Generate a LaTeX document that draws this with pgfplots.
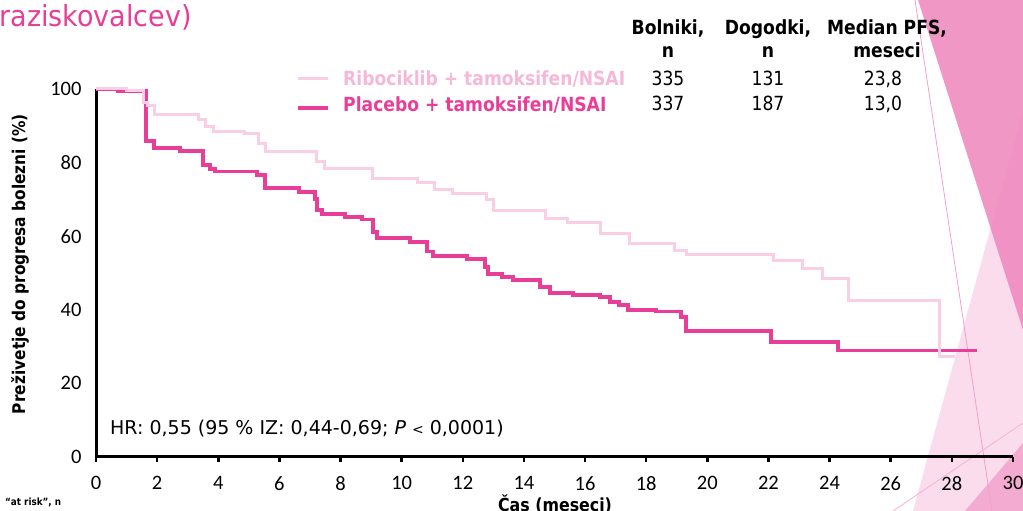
\documentclass[border=0pt]{standalone}
\usepackage{pgfplots}
\pgfplotsset{compat=1.18}
\usepackage{pgfplotstable}
\usepackage{fontspec}
\setmainfont{DejaVu Sans}[FakeStretch=0.88]
\newfontfamily\tah{DejaVu Sans}[FakeStretch=0.88]
\newfontfamily\ttl{DejaVu Sans}[FakeStretch=0.93]
\newfontfamily\dvs{DejaVu Sans}
\newfontfamily\carlito{Carlito}
\definecolor{lightpk}{RGB}{250,207,229}
\definecolor{lightpktxt}{RGB}{246,184,217}
\definecolor{darkpk}{RGB}{233,62,152}
\definecolor{midpk}{RGB}{240,140,192}
\definecolor{palepk}{RGB}{249,211,232}

\pgfplotstableread{
x y
0 100
1.0 99.6
1.55 96.2
1.7 95.6
1.9 93.2
3.34 91.6
3.57 89.7
3.83 88.4
4.87 87.8
5.30 85.3
5.53 82.9
7.23 80.2
7.49 78.5
9.03 75.8
10.53 74.5
11.09 72.6
11.65 71.7
12.79 70.1
12.99 67.1
14.72 64.9
15.44 63.6
16.52 60.6
17.44 57.9
18.91 56.2
19.33 54.9
22.18 53.3
23.10 51.1
23.78 48.6
24.63 42.4
27.58 27.2
28.10 27.2
}\ribo

\pgfplotstableread{
x y
0 100
0.7 99.5
1.64 85.9
1.9 84.0
2.75 83.2
3.50 79.3
3.73 78.3
3.89 77.6
5.27 76.6
5.53 73.1
6.64 72.0
7.16 70.1
7.23 67.1
7.39 66.0
8.15 65.2
8.70 64.6
9.06 61.1
9.19 59.5
10.27 58.4
10.83 55.9
11.02 54.6
12.13 53.8
12.73 51.6
12.82 49.7
13.28 48.9
13.64 48.1
14.52 46.2
14.85 44.6
15.60 44.0
16.49 43.5
16.81 42.1
17.11 41.3
17.40 39.9
18.32 39.6
19.14 38.0
19.30 34.2
22.08 31.3
24.27 29.0
28.82 29.0
}\plac

\begin{document}
\begin{tikzpicture}[x=1pt,y=1pt]
\useasboundingbox (0,0) rectangle (1023,511);
\clip (0,0) rectangle (1023,511);
% decorative shapes
\fill[palepk, opacity=0.8] (1023,401) -- (913,0) -- (1023,0) -- cycle;
\fill[midpk, opacity=0.9] (918,511) -- (1023,511) -- (1023,181) -- cycle;
\fill[midpk, opacity=0.6] (965,0) -- (1023,68) -- (1023,0) -- cycle;
\draw[darkpk!50, line width=0.8pt] (915,511) -- (992,0);
\draw[darkpk!40, line width=0.8pt] (893,0) -- (1023,88);
% title fragment
\node[anchor=base east, inner sep=0pt, text=darkpk, font=\ttl\fontsize{29}{32}\selectfont] at (192,484) {raziskovalcev)};
\begin{axis}[
  at={(96pt,54pt)}, anchor=south west,
  scale only axis, width=917pt, height=368pt,
  xmin=0, xmax=30, ymin=0, ymax=100,
  axis lines*=left,
  axis line style={line width=3pt, black},
  xtick={0,2,...,30}, ytick={0,20,...,100},
  tick align=outside,
  major tick length=5pt,
  x tick style={line width=2.5pt, black},
  y tick style={draw=none},
  /pgf/number format/assume math mode=true,
  ticklabel style={font=\carlito\fontsize{20.5}{24}\selectfont},
  xticklabel style={yshift=-11pt},
  yticklabel style={xshift=-6pt},
  clip=false,
]
\addplot[const plot, darkpk, line width=3.5pt] table[x=x,y=y] {\plac};
\addplot[const plot, lightpk, line width=3pt] table[x=x,y=y] {\ribo};
\end{axis}
% legend
\draw[lightpk, line width=3pt] (298,432) -- (328,432);
\draw[darkpk, line width=3.5pt] (298,403) -- (328,403);
\node[anchor=base west, inner sep=0pt, text=lightpktxt, font=\tah\bfseries\fontsize{19.5}{22}\selectfont] at (343,425) {Ribociklib + tamoksifen/NSAI};
\node[anchor=base west, inner sep=0pt, text=darkpk, font=\tah\bfseries\fontsize{19.5}{22}\selectfont] at (343,399) {Placebo + tamoksifen/NSAI};
% table
\begin{scope}[every node/.style={anchor=base, inner sep=0pt, font=\tah\fontsize{19.5}{22}\selectfont}]
\node[font=\tah\bfseries\fontsize{19.5}{22}\selectfont] at (668,476) {Bolniki,};
\node[font=\tah\bfseries\fontsize{19.5}{22}\selectfont] at (668,453) {n};
\node[font=\tah\bfseries\fontsize{19.5}{22}\selectfont] at (768,476) {Dogodki,};
\node[font=\tah\bfseries\fontsize{19.5}{22}\selectfont] at (768,453) {n};
\node[font=\tah\bfseries\fontsize{19.5}{22}\selectfont] at (887,476) {Median PFS,};
\node[font=\tah\bfseries\fontsize{19.5}{22}\selectfont] at (887,453) {meseci};
\node at (668,425) {335};
\node at (768,425) {131};
\node at (883,425) {23,8};
\node at (668,400) {337};
\node at (768,400) {187};
\node at (883,400) {13,0};
\end{scope}
% HR text
\node[anchor=base west, inner sep=0pt, font=\dvs\fontsize{19}{22}\selectfont] at (110,76) {HR: 0,55 (95 \% IZ: 0,44-0,69; \textit{P} {\fontsize{14}{16}\selectfont<} 0,0001)};
% axis labels
\node[rotate=90, anchor=center, inner sep=0pt, font=\tah\bfseries\fontsize{17.5}{20}\selectfont] at (20,247) {Preživetje do progresa bolezni (\%)};
\node[anchor=base, inner sep=0pt, font=\tah\bfseries\fontsize{18}{21}\selectfont] at (555,-1) {Čas (meseci)};
\node[anchor=base west, inner sep=0pt, font=\tah\bfseries\fontsize{10}{12}\selectfont] at (5,5) {“at risk”, n};
\end{tikzpicture}
\end{document}
